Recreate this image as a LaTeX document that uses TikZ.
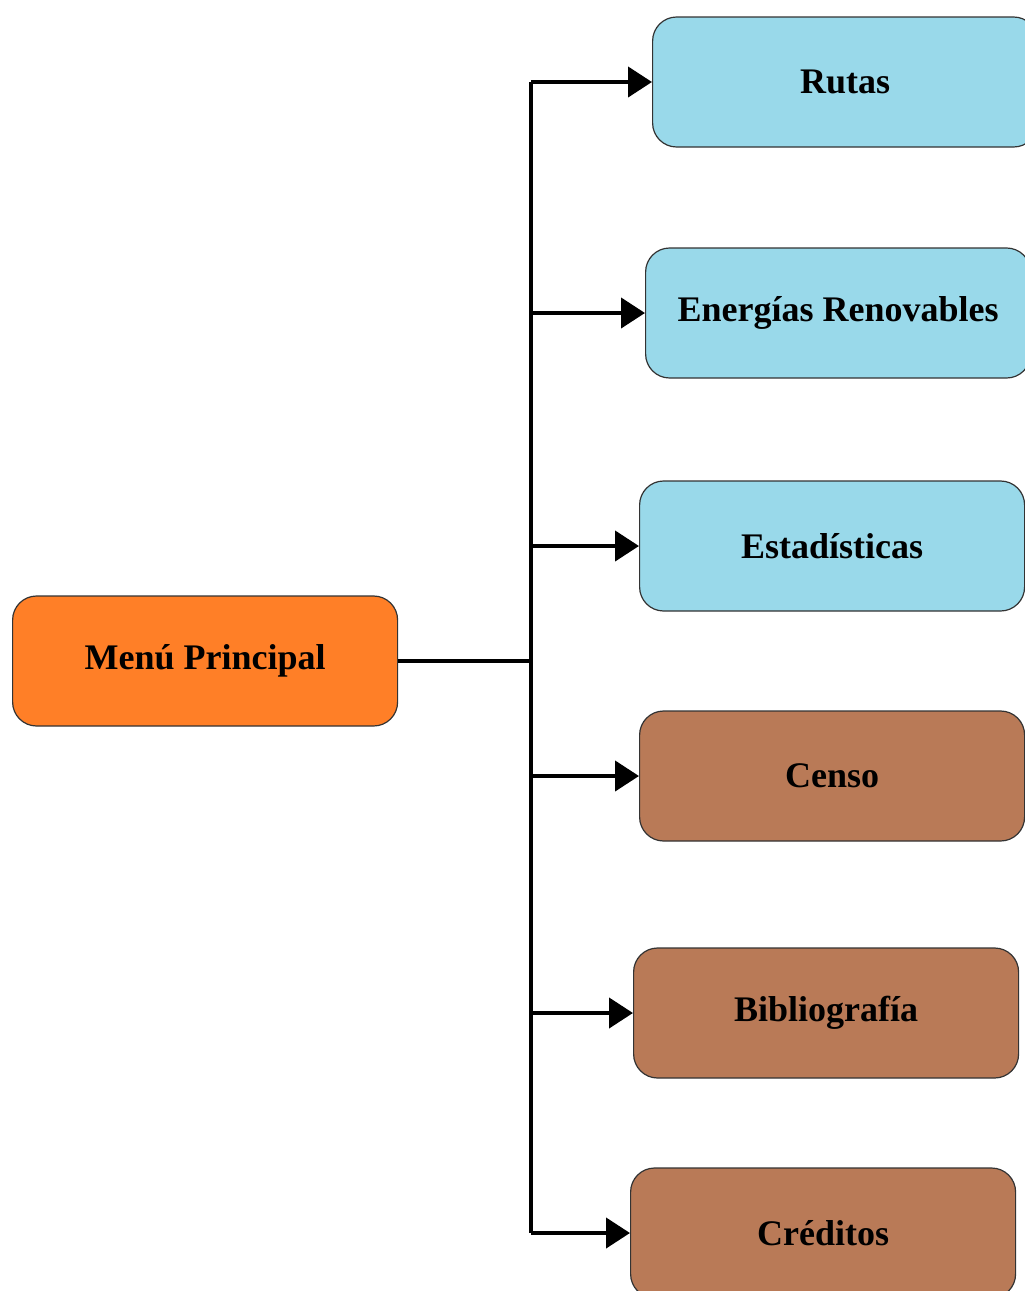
\documentclass[tikz,border=0pt]{standalone}
\usepackage{fontspec}
\setmainfont{Liberation Serif}
\usepackage{tikz}
\usetikzlibrary{positioning,arrows.meta}

\tikzset{
  caja/.style={draw=black!80, line width=1.2pt, rounded corners=24pt,
    minimum width=385pt, minimum height=130pt, anchor=west,
    font=\fontsize{36}{43}\selectfont\bfseries},
  principal/.style={caja, fill=menuorange},
  azul/.style={caja, fill=cajaazul},
  marron/.style={caja, fill=cajamarron},
  linea/.style={line width=4.2pt},
  flecha/.style={linea, -{Triangle[length=24pt,width=30pt]}},
}
\definecolor{menuorange}{RGB}{255,127,39}
\definecolor{cajaazul}{RGB}{153,217,234}
\definecolor{cajamarron}{RGB}{185,122,87}

\begin{document}
\begin{tikzpicture}[x=1pt,y=-1pt]
  \useasboundingbox (0,0) rectangle (1025,1291);

  % Nodo principal
  \node[principal] (menu) at (12,661) {Menú Principal};

  % Opciones del menu
  \node[azul] (rutas) at (652,82) {Rutas};
  \node[azul] (energias) at (645,313) {Energías Renovables};
  \node[azul] (estadisticas) at (639,546) {Estadísticas};
  \node[marron] (censo) at (639,776) {Censo};
  \node[marron] (biblio) at (633,1013) {Bibliografía};
  \node[marron] (creditos) at (630,1233) {Créditos};

  % Tronco vertical
  \coordinate (tronco) at (531,661);
  \draw[linea] (menu.east) -- (tronco);
  \draw[linea] (tronco |- rutas.west) -- (tronco |- creditos.west);

  % Flechas
  \foreach \n in {rutas,energias,estadisticas,censo,biblio,creditos}
    \draw[flecha] (tronco |- \n.west) -- (\n.west);
\end{tikzpicture}
\end{document}
